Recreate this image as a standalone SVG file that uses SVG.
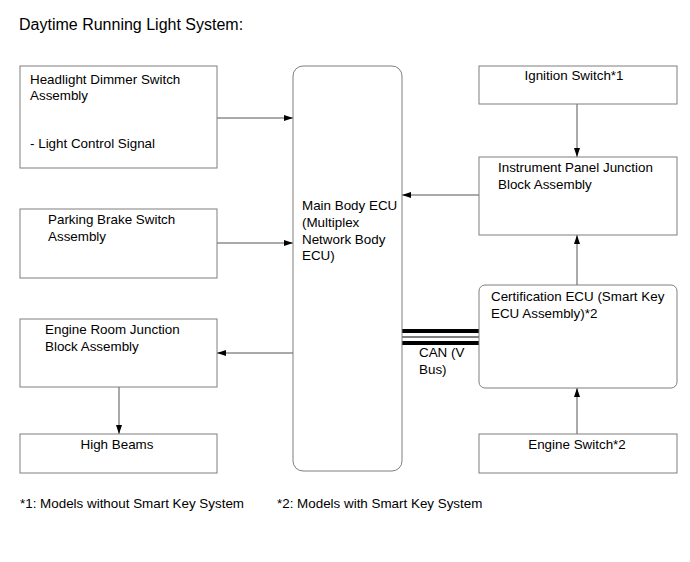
<svg xmlns="http://www.w3.org/2000/svg" width="690" height="562" viewBox="0 0 690 562">
<style>
text{font-family:"Liberation Sans",Arial,sans-serif;font-size:13.4px;fill:#000}
.box{fill:#fff;stroke:#7f7f7f;stroke-width:1}
.ln{stroke:#555;stroke-width:1;fill:none}
</style>
<defs>
<marker id="ah" markerWidth="9" markerHeight="6" refX="9" refY="3" orient="auto" markerUnits="userSpaceOnUse">
<path d="M0,0 L9,3 L0,6 Z" fill="#000"/>
</marker>
</defs>
<rect width="690" height="562" fill="#fff"/>
<text x="19" y="30" style="font-size:16px">Daytime Running Light System:</text>
<g id="connectors">
<line class="ln" x1="217" y1="118" x2="293" y2="118" marker-end="url(#ah)"/>
<line class="ln" x1="217" y1="243" x2="293" y2="243" marker-end="url(#ah)"/>
<line class="ln" x1="293" y1="353" x2="217" y2="353" marker-end="url(#ah)"/>
<line class="ln" x1="119" y1="387" x2="119" y2="434" marker-end="url(#ah)"/>
<line class="ln" x1="577" y1="104" x2="577" y2="157" marker-end="url(#ah)"/>
<line class="ln" x1="479" y1="195" x2="402" y2="195" marker-end="url(#ah)"/>
<line class="ln" x1="577" y1="285" x2="577" y2="235" marker-end="url(#ah)"/>
<line class="ln" x1="577" y1="434" x2="577" y2="388" marker-end="url(#ah)"/>
<line x1="402" y1="331" x2="479" y2="331" stroke="#000" stroke-width="4"/>
<line x1="402" y1="337" x2="479" y2="337" stroke="#000" stroke-width="1"/>
<line x1="402" y1="343" x2="479" y2="343" stroke="#000" stroke-width="4"/>
<text x="419" y="357">CAN (V</text>
<text x="419" y="374">Bus)</text>
</g>
<g id="headlight">
<rect class="box" x="20" y="66" width="197" height="102"/>
<text x="30" y="84">Headlight Dimmer Switch</text>
<text x="30" y="100">Assembly</text>
<text x="30" y="148">- Light Control Signal</text>
</g>
<g id="parking">
<rect class="box" x="20" y="209" width="197" height="69"/>
<text x="48" y="224">Parking Brake Switch</text>
<text x="48" y="241">Assembly</text>
</g>
<g id="engineroom">
<rect class="box" x="20" y="319" width="197" height="68"/>
<text x="45" y="334">Engine Room Junction</text>
<text x="45" y="351">Block Assembly</text>
</g>
<g id="highbeams">
<rect class="box" x="20" y="434" width="197" height="39"/>
<text x="117" y="449" text-anchor="middle">High Beams</text>
</g>
<g id="mainecu">
<rect class="box" x="293" y="66" width="109" height="405" rx="10"/>
<text x="302" y="210">Main Body ECU</text>
<text x="302" y="227">(Multiplex</text>
<text x="302" y="244">Network Body</text>
<text x="302" y="260">ECU)</text>
</g>
<g id="ignition">
<rect class="box" x="479" y="66" width="198" height="38"/>
<text x="574" y="80" text-anchor="middle">Ignition Switch*1</text>
</g>
<g id="instrument">
<rect class="box" x="479" y="157" width="198" height="78"/>
<text x="498" y="172">Instrument Panel Junction</text>
<text x="498" y="189">Block Assembly</text>
</g>
<g id="certification">
<rect class="box" x="479" y="285" width="198" height="103" rx="6"/>
<text x="491" y="301">Certification ECU (Smart Key</text>
<text x="491" y="318">ECU Assembly)*2</text>
</g>
<g id="engineswitch">
<rect class="box" x="479" y="434" width="198" height="39"/>
<text x="577" y="449" text-anchor="middle">Engine Switch*2</text>
</g>
<text x="20" y="508">*1: Models without Smart Key System</text>
<text x="277" y="508">*2: Models with Smart Key System</text>
</svg>
